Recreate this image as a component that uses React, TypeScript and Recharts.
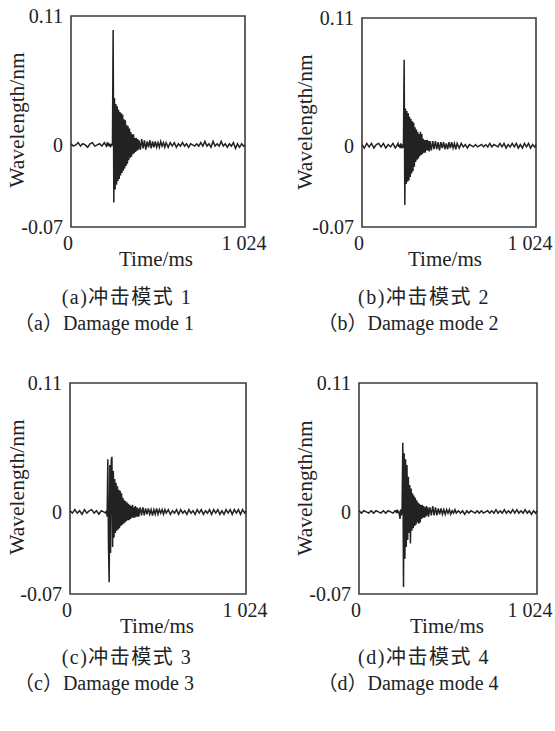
import React from "react";
import { LineChart, Line, XAxis, YAxis, ReferenceArea } from "recharts";

// sample times (ms): coarse before the impact, fine across the burst, coarse again after
const TIME = [
  0, 14, 28, 42, 56, 70, 84, 98, 112, 126, 140, 154, 168, 182, 196, 208,
  212, 216, 220, 224, 228, 232, 236, 240, 244, 248, 252, 256, 260, 264, 268, 272,
  276, 280, 284, 288, 292, 296, 300, 304, 308, 312, 316, 320, 324, 328, 332, 336,
  340, 344, 348, 352, 356, 360, 364, 368, 372, 376, 380, 384, 388, 392, 396, 400,
  408, 416, 424, 432, 440, 448, 456, 464, 472, 480, 488, 496, 504, 512, 520, 528,
  536, 544, 552, 560,
  572, 584, 596, 608, 620, 632, 644, 656, 668, 680, 692, 704, 716, 728, 740, 752,
  764, 776, 788, 800, 812, 824, 836, 848, 860, 872, 884, 896, 908, 920, 932, 944,
  956, 968, 980, 992, 1004, 1016, 1024,
];

// wavelength shift (nm), mode 1
const WAVE_A = [
  0.001, -0.001, 0.0, 0.002, -0.001, 0.001, 0.0, -0.002, 0.001, 0.002, -0.001, 0.0, 0.001, -0.001, 0.002, -0.001,
  0.001, -0.001, 0.002, -0.001, 0.001, -0.002, 0.001, -0.001, 0.002, 0.098, -0.049, 0.04, -0.038, 0.035, -0.034, 0.033,
  -0.031, 0.03, -0.029, 0.028, -0.026, 0.027, -0.024, 0.026, -0.022, 0.022, -0.02, 0.021, -0.018, 0.017, -0.016, 0.016,
  -0.013, 0.014, -0.011, 0.011, -0.01, 0.009, -0.008, 0.009, -0.007, 0.006, -0.006, 0.006, -0.005, 0.005, -0.004, 0.004,
  -0.004, 0.005, -0.003, 0.004, -0.004, 0.003, -0.002, 0.004, -0.003, 0.003, -0.002, 0.003, -0.002, 0.002, -0.002, 0.003,
  -0.001, 0.002, -0.002, 0.002,
  -0.002, 0.002, -0.001, 0.002, -0.002, 0.001, -0.001, 0.002, -0.001, 0.001, -0.002, 0.001, 0.0, -0.001, 0.001, -0.001,
  0.002, -0.001, 0.003, -0.001, 0.001, -0.002, 0.003, -0.001, 0.001, -0.001, 0.003, -0.001, 0.001, -0.002, 0.001, -0.001,
  0.002, -0.003, 0.001, -0.002, 0.001, -0.001, 0.0,
];

// mode 2
const WAVE_B = [
  0.001, -0.002, 0.002, -0.001, 0.002, -0.002, 0.001, 0.002, -0.001, 0.002, -0.002, 0.001, -0.001, 0.002, -0.002, 0.001,
  0.002, -0.001, 0.001, -0.002, 0.002, -0.001, 0.0, -0.002, 0.001, 0.074, -0.051, 0.032, -0.033, 0.03, -0.031, 0.028,
  -0.03, 0.025, -0.027, 0.023, -0.024, 0.021, -0.022, 0.02, -0.018, 0.016, -0.014, 0.014, -0.012, 0.012, -0.011, 0.01,
  -0.009, 0.012, -0.008, 0.01, -0.007, 0.006, -0.006, 0.005, -0.006, 0.005, -0.004, 0.005, -0.004, 0.004, -0.005, 0.004,
  -0.004, 0.004, -0.003, 0.004, -0.003, 0.003, -0.004, 0.003, -0.002, 0.003, -0.003, 0.002, -0.003, 0.003, -0.002, 0.003,
  -0.002, 0.002, -0.003, 0.002,
  -0.002, 0.002, -0.001, 0.001, -0.002, 0.001, 0.0, -0.001, 0.001, -0.001, 0.0, 0.001, -0.001, 0.001, -0.001, 0.002,
  -0.001, 0.001, 0.0, -0.001, 0.002, -0.001, 0.002, -0.002, 0.001, -0.001, 0.002, -0.001, 0.002, -0.002, 0.001, -0.002,
  0.002, -0.001, 0.002, -0.002, 0.001, -0.001, 0.001,
];

// mode 3
const WAVE_C = [
  0.001, -0.001, 0.002, -0.001, 0.001, -0.002, 0.002, -0.001, 0.001, 0.002, -0.001, 0.001, -0.002, 0.001, 0.0, -0.001,
  0.001, -0.004, 0.045, -0.03, -0.06, 0.04, -0.035, 0.044, 0.047, -0.03, 0.035, -0.022, 0.028, -0.018, 0.025, -0.016,
  0.022, -0.015, 0.019, -0.014, 0.018, -0.012, 0.016, -0.011, 0.012, -0.01, 0.01, -0.009, 0.009, -0.008, 0.008, -0.007,
  0.007, -0.007, 0.006, -0.006, 0.005, -0.005, 0.006, -0.005, 0.004, -0.005, 0.005, -0.004, 0.004, -0.004, 0.003, -0.004,
  0.004, -0.003, 0.004, -0.003, 0.003, -0.002, 0.003, -0.002, 0.002, -0.003, 0.002, -0.002, 0.003, -0.002, 0.002, -0.001,
  0.002, -0.002, 0.002, -0.001,
  0.002, -0.002, 0.001, -0.001, 0.002, -0.002, 0.002, -0.001, 0.001, -0.002, 0.002, -0.001, 0.001, -0.002, 0.002, -0.001,
  0.002, -0.002, 0.001, -0.001, 0.002, -0.002, 0.002, -0.001, 0.002, -0.002, 0.001, -0.002, 0.002, -0.001, 0.002, -0.002,
  0.002, -0.001, 0.002, -0.002, 0.002, -0.001, 0.001,
];

// mode 4
const WAVE_D = [
  0.001, -0.001, 0.001, 0.0, -0.001, 0.001, -0.001, 0.001, 0.0, -0.001, 0.001, -0.001, 0.001, 0.0, -0.001, 0.001,
  0.001, -0.001, 0.002, -0.001, 0.001, -0.002, -0.006, 0.002, -0.003, 0.004, 0.059, -0.064, 0.05, -0.04, 0.045, -0.03,
  0.04, -0.024, 0.03, -0.018, 0.023, -0.027, 0.02, -0.016, 0.016, -0.014, 0.014, -0.012, 0.012, -0.011, 0.01, -0.009,
  0.008, -0.01, 0.007, -0.009, 0.006, -0.006, 0.006, -0.005, 0.005, -0.005, 0.004, -0.004, 0.005, -0.003, 0.004, -0.004,
  0.004, -0.003, 0.005, -0.003, 0.004, -0.003, 0.003, -0.002, 0.003, -0.002, 0.002, -0.002, 0.002, -0.001, 0.002, -0.002,
  0.001, -0.001, 0.002, -0.001,
  0.001, -0.001, 0.001, -0.002, 0.001, -0.001, 0.001, 0.0, -0.001, 0.001, -0.001, 0.001, -0.001, 0.0, 0.001, -0.001,
  0.001, -0.001, 0.002, -0.001, 0.001, -0.001, 0.002, -0.001, 0.001, -0.001, 0.002, -0.001, 0.002, -0.001, 0.001, -0.001,
  0.002, -0.001, 0.001, -0.002, 0.001, -0.001, 0.001,
];

const X_TICKS = [0, 1024];
const Y_TICKS = [-0.07, 0, 0.11];

const SERIF = "'Liberation Serif', 'DejaVu Serif', 'Noto Sans CJK SC', serif";
const INK = "#222";

const CHART_W = 285;
const CHART_H = 270;
const Y_AXIS_W = 60;
const X_AXIS_H = 30;

type PanelProps = {
  values: number[];
  left: number; // page position of the chart box
  top: number;
  plot: { l: number; r: number; t: number; b: number }; // plot area inside the box
  endShift: number; // nudge of the "1 024" label so it stays on the page
};

function Panel({ values, left, top, plot, endShift }: PanelProps) {
  const rows = TIME.map((t, i) => ({ t, v: values[i] }));
  const margin = {
    top: plot.t,
    left: plot.l - Y_AXIS_W,
    right: CHART_W - plot.r,
    bottom: CHART_H - plot.b - X_AXIS_H,
  };
  const tick = { fontSize: 20, fontFamily: SERIF, fill: INK };

  const renderXTick = (p: any) => {
    const v = p.payload.value;
    const dx = v === 1024 ? endShift : -3;
    return (
      <text
        x={p.x + dx}
        y={p.y}
        dy="0.71em"
        textAnchor="middle"
        fontSize={20}
        fontFamily={SERIF}
        fill={INK}
      >
        {v === 1024 ? "1 024" : String(v)}
      </text>
    );
  };

  return (
    <div style={{ position: "absolute", left, top }}>
      <LineChart width={CHART_W} height={CHART_H} data={rows} margin={margin}>
        <XAxis
          dataKey="t"
          type="number"
          domain={[0, 1024]}
          ticks={X_TICKS}
          axisLine={false}
          tickLine={false}
          tickSize={0}
          tickMargin={9}
          height={X_AXIS_H}
          tick={renderXTick}
          interval={0}
        />
        <YAxis
          type="number"
          domain={[-0.07, 0.11]}
          ticks={Y_TICKS}
          tickFormatter={(v: number) => (v === 0 ? "0" : v.toFixed(2))}
          axisLine={false}
          tickLine={false}
          tickSize={0}
          tickMargin={8}
          width={Y_AXIS_W}
          tick={tick}
          interval={0}
          allowDataOverflow
        />
        <ReferenceArea
          x1={0}
          x2={1024}
          y1={-0.07}
          y2={0.11}
          fill="none"
          fillOpacity={0}
          stroke="#3c3c3c"
          strokeWidth={1.6}
        />
        <Line
          type="linear"
          dataKey="v"
          stroke="#222"
          strokeWidth={1.5}
          dot={false}
          isAnimationActive={false}
        />
      </LineChart>
    </div>
  );
}

const CAPTIONS_CN = [
  { x: 127, y: 297, text: "(a)冲击模式 1" },
  { x: 424, y: 297, text: "(b)冲击模式 2" },
  { x: 127, y: 657, text: "(c)冲击模式 3" },
  { x: 424, y: 657, text: "(d)冲击模式 4" },
];

const CAPTIONS_EN = [
  { x: 104, y: 323, text: "（a）Damage mode 1" },
  { x: 408, y: 323, text: "（b）Damage mode 2" },
  { x: 104, y: 683, text: "（c）Damage mode 3" },
  { x: 408, y: 683, text: "（d）Damage mode 4" },
];

const Y_LABELS = [
  { x: 17, y: 120 },
  { x: 305, y: 122 },
  { x: 17, y: 487 },
  { x: 305, y: 488 },
];

const X_LABELS = [
  { x: 156, y: 259 },
  { x: 445, y: 259 },
  { x: 157, y: 626 },
  { x: 447, y: 626 },
];

export default function App() {
  return (
    <div
      style={{
        position: "absolute",
        left: 0,
        top: 0,
        width: 555,
        height: 731,
        background: "#fff",
      }}
    >
      <Panel values={WAVE_A} left={0} top={0} plot={{ l: 71, r: 245, t: 16, b: 227 }} endShift={-1} />
      <Panel values={WAVE_B} left={270} top={0} plot={{ l: 92, r: 266, t: 18, b: 227 }} endShift={-6} />
      <Panel values={WAVE_C} left={0} top={360} plot={{ l: 70, r: 246, t: 23, b: 234 }} endShift={-1} />
      <Panel values={WAVE_D} left={270} top={360} plot={{ l: 89, r: 267, t: 23, b: 234 }} endShift={-7} />

      <svg
        width={555}
        height={731}
        style={{ position: "absolute", left: 0, top: 0, pointerEvents: "none" }}
      >
        <g fontFamily={SERIF} fill={INK}>
          {Y_LABELS.map((p, i) => (
            <text
              key={`y${i}`}
              x={p.x}
              y={p.y}
              fontSize={21.5}
              textAnchor="middle"
              dominantBaseline="central"
              transform={`rotate(-90 ${p.x} ${p.y})`}
            >
              Wavelength/nm
            </text>
          ))}
          {X_LABELS.map((p, i) => (
            <text
              key={`x${i}`}
              x={p.x}
              y={p.y}
              fontSize={21}
              textAnchor="middle"
              dominantBaseline="central"
            >
              Time/ms
            </text>
          ))}
          {CAPTIONS_CN.map((c, i) => (
            <text
              key={`cn${i}`}
              x={c.x}
              y={c.y}
              fontSize={20}
              letterSpacing={1.5}
              textAnchor="middle"
              dominantBaseline="central"
            >
              {c.text}
            </text>
          ))}
          {CAPTIONS_EN.map((c, i) => (
            <text
              key={`en${i}`}
              x={c.x}
              y={c.y}
              fontSize={20}
              textAnchor="middle"
              dominantBaseline="central"
            >
              {c.text}
            </text>
          ))}
        </g>
      </svg>
    </div>
  );
}
